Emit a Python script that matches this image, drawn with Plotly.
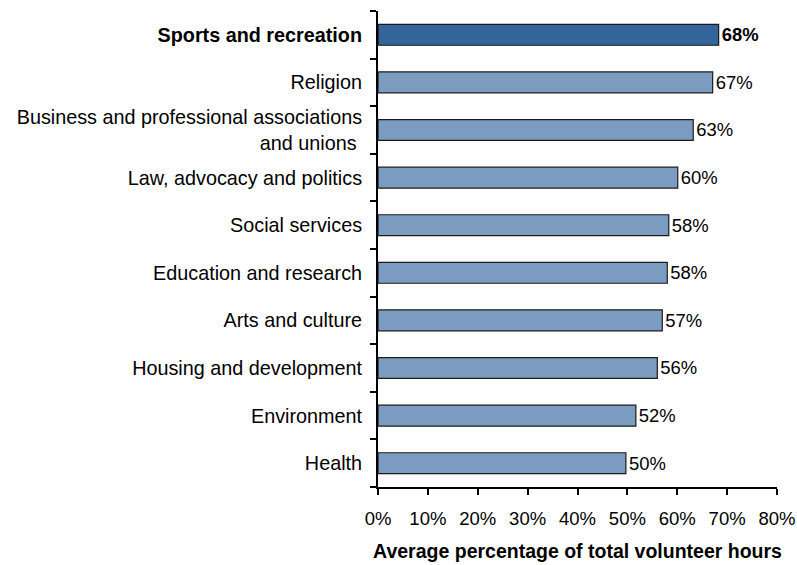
import plotly.graph_objects as go

# Volunteer hours share by activity area (top to bottom)
categories = [
    "Sports and recreation",
    "Religion",
    "Business and professional associations<br>and unions ",
    "Law, advocacy and politics",
    "Social services",
    "Education and research",
    "Arts and culture",
    "Housing and development",
    "Environment",
    "Health",
]
values = [68.3, 67.1, 63.2, 60.1, 58.3, 58.0, 57.0, 56.0, 51.7, 49.7]
value_labels = ["68%", "67%", "63%", "60%", "58%", "58%", "57%", "56%", "52%", "50%"]
x_ticks = [0, 10, 20, 30, 40, 50, 60, 70, 80]

highlight = "#34659a"
base = "#7b9cc0"
colors = [highlight] + [base] * (len(categories) - 1)
tick_text = ["<b>" + categories[0] + "</b>"] + categories[1:]
bar_text = ["<b>" + value_labels[0] + "</b>"] + value_labels[1:]

FONT = "Liberation Sans, Arial, sans-serif"

fig = go.Figure(
    go.Bar(
        x=values,
        y=categories,
        orientation="h",
        marker=dict(color=colors, line=dict(color="#1a1a1a", width=1.2)),
        text=bar_text,
        textposition="outside",
        textfont=dict(size=18.5, color="#000000"),
        cliponaxis=False,
        hoverinfo="skip",
    )
)

fig.update_layout(
    width=797,
    height=565,
    margin=dict(l=378, r=20, t=11, b=78),
    plot_bgcolor="white",
    paper_bgcolor="white",
    font=dict(family=FONT, size=19, color="#000000"),
    bargap=0.56,
    showlegend=False,
)

fig.update_yaxes(
    type="category",
    categoryorder="array",
    categoryarray=categories,
    tickvals=categories,
    ticktext=tick_text,
    tickfont=dict(size=19.8),
    autorange="reversed",
    tickson="boundaries",
    ticks="outside",
    ticklen=6,
    tickwidth=2,
    tickcolor="#000000",
    showline=True,
    linecolor="#000000",
    linewidth=2,
    showgrid=False,
    automargin=False,
    ticklabelstandoff=10,
)

fig.update_xaxes(
    range=[0, 80],
    tickvals=x_ticks,
    ticktext=[f"{v}%" for v in x_ticks],
    tickfont=dict(size=18.5),
    ticks="outside",
    ticklen=6,
    tickwidth=2,
    tickcolor="#000000",
    showline=True,
    linecolor="#000000",
    linewidth=2,
    showgrid=False,
    zeroline=False,
    automargin=False,
    ticklabelstandoff=8,
    title=dict(
        text="<b>Average percentage of total volunteer hours</b>",
        font=dict(size=19.5),
        standoff=16,
    ),
)

fig.write_html("out.html")
